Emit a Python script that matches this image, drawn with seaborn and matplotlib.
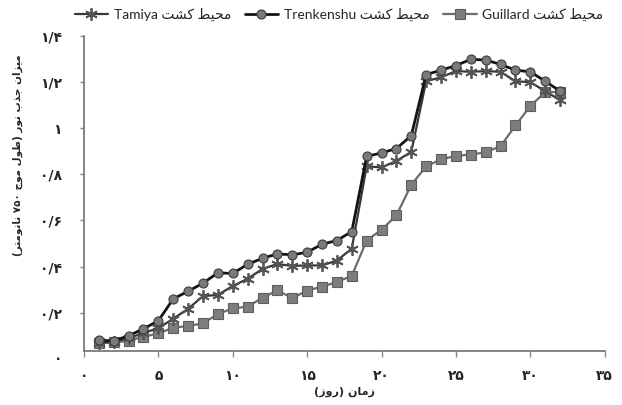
import matplotlib
matplotlib.use("Agg")
import matplotlib.pyplot as plt
import matplotlib.transforms as mtransforms
import seaborn as sns

# ---------------- data ----------------
days = list(range(1, 33))
trenkenshu = [0.080, 0.078, 0.100, 0.130, 0.165, 0.260, 0.293, 0.328, 0.373, 0.370,
              0.410, 0.436, 0.455, 0.451, 0.462, 0.497, 0.513, 0.552, 0.878, 0.893,
              0.912, 0.968, 1.233, 1.252, 1.272, 1.299, 1.296, 1.277, 1.252, 1.245,
              1.204, 1.161]
tamiya = [0.070, 0.074, 0.089, 0.112, 0.133, 0.174, 0.217, 0.272, 0.277, 0.316,
          0.347, 0.390, 0.411, 0.403, 0.405, 0.405, 0.426, 0.478, 0.835, 0.830,
          0.858, 0.898, 1.204, 1.221, 1.248, 1.245, 1.248, 1.245, 1.204, 1.200,
          1.161, 1.122]
guillard = [0.067, 0.071, 0.078, 0.096, 0.110, 0.135, 0.142, 0.154, 0.194, 0.219,
            0.226, 0.265, 0.297, 0.263, 0.296, 0.313, 0.333, 0.360, 0.513, 0.560,
            0.622, 0.755, 0.835, 0.865, 0.880, 0.886, 0.896, 0.922, 1.012, 1.096,
            1.157, 1.157]

legend_labels = ["محیط کشت Tamiya", "محیط کشت Trenkenshu", "محیط کشت Guillard"]
x_ticks = [0, 5, 10, 15, 20, 25, 30, 35]
x_tick_labels = ["۰", "۵", "۱۰", "۱۵", "۲۰", "۲۵", "۳۰", "۳۵"]
y_ticks = [0.2, 0.4, 0.6, 0.8, 1.0, 1.2, 1.4]
y_tick_labels = ["۰/۲", "۰/۴", "۰/۶", "۰/۸", "۱", "۱/۲", "۱/۴"]
zero_label = "۰"
x_title = "زمان (روز)"
y_title = "میزان جذب نور (طول موج ۷۵۰ نانومتر)"

# ------------- minimal Persian shaping + visual ordering -------------
FORMS = {  # isolated, final, initial, medial
    "\u0627": ("\uFE8D", "\uFE8E", None, None),
    "\u0628": ("\uFE8F", "\uFE90", "\uFE91", "\uFE92"),
    "\u062A": ("\uFE95", "\uFE96", "\uFE97", "\uFE98"),
    "\u062C": ("\uFE9D", "\uFE9E", "\uFE9F", "\uFEA0"),
    "\u062D": ("\uFEA1", "\uFEA2", "\uFEA3", "\uFEA4"),
    "\u062F": ("\uFEA9", "\uFEAA", None, None),
    "\u0630": ("\uFEAB", "\uFEAC", None, None),
    "\u0631": ("\uFEAD", "\uFEAE", None, None),
    "\u0632": ("\uFEAF", "\uFEB0", None, None),
    "\u0634": ("\uFEB5", "\uFEB6", "\uFEB7", "\uFEB8"),
    "\u0637": ("\uFEC1", "\uFEC2", "\uFEC3", "\uFEC4"),
    "\u0644": ("\uFEDD", "\uFEDE", "\uFEDF", "\uFEE0"),
    "\u0645": ("\uFEE1", "\uFEE2", "\uFEE3", "\uFEE4"),
    "\u0646": ("\uFEE5", "\uFEE6", "\uFEE7", "\uFEE8"),
    "\u0648": ("\uFEED", "\uFEEE", None, None),
    "\u06A9": ("\uFB8E", "\uFB8F", "\uFB90", "\uFB91"),
    "\u06CC": ("\uFBFC", "\uFBFD", "\uFBFE", "\uFBFF"),
}


def shape(s):
    out = []
    for i, c in enumerate(s):
        if c not in FORMS:
            out.append(c)
            continue
        prev = s[i - 1] if i > 0 else ""
        nxt = s[i + 1] if i + 1 < len(s) else ""
        pj = prev in FORMS and FORMS[prev][2] is not None
        nj = nxt in FORMS and FORMS[c][2] is not None
        iso, fin, ini, med = FORMS[c]
        if pj and nj:
            out.append(med)
        elif pj:
            out.append(fin)
        elif nj:
            out.append(ini)
        else:
            out.append(iso)
    return "".join(out)


def is_ltr(c):
    return (c.isascii() and c.isalnum()) or ("\u06F0" <= c <= "\u06F9")


MIRROR = {"(": ")", ")": "("}


def visual(s):
    s = shape(s)
    runs = []
    for c in s:
        kind = is_ltr(c)
        if runs and runs[-1][0] == kind:
            runs[-1][1].append(c)
        else:
            runs.append([kind, [c]])
    parts = []
    for kind, chars in reversed(runs):
        if kind:
            parts.append("".join(chars))
        else:
            parts.append("".join(MIRROR.get(ch, ch) for ch in reversed(chars)))
    return "".join(parts)


# ---------------- plot ----------------
sns.set_theme(style="white")
plt.rcParams["font.family"] = ["Lato", "DejaVu Sans"]

fig = plt.figure(figsize=(6.22, 4.05), dpi=100)
ax = fig.add_axes([0.135, 0.134, 0.8372, 0.777])

sns.lineplot(x=days, y=guillard, ax=ax, color="#6c6c6c", linewidth=1.6,
             marker="s", markersize=6.5, markerfacecolor="#7d7d7d",
             markeredgecolor="#5e5e5e", markeredgewidth=0.8,
             label=visual(legend_labels[2]), zorder=3)
sns.lineplot(x=days, y=tamiya, ax=ax, color="#383838", linewidth=1.6,
             marker=(6, 2, 0), markersize=9, markeredgecolor="#555555",
             markeredgewidth=1.3, label=visual(legend_labels[0]), zorder=4)
sns.lineplot(x=days, y=trenkenshu, ax=ax, color="#141414", linewidth=2.0,
             marker="o", markersize=6.5, markerfacecolor="#7a7a7a",
             markeredgecolor="#3c3c3c", markeredgewidth=0.8,
             label=visual(legend_labels[1]), zorder=5)

ax.set_xlim(0, 35)
ax.set_ylim(0.035, 1.4)
ax.set_xticks(x_ticks)
ax.set_xticklabels(x_tick_labels, fontsize=10, fontweight="bold",
                   family=["DejaVu Sans"])
ax.set_yticks(y_ticks)
ax.set_yticklabels(y_tick_labels, fontsize=10, fontweight="bold",
                   family=["DejaVu Sans"])
ax.tick_params(axis="x", direction="out", length=4, width=1, color="#888888",
               pad=9, bottom=True)
ax.tick_params(axis="y", direction="out", length=3, width=1, color="#888888",
               pad=13, left=True)

# zero label on the y axis (axis starts a little above zero)
trans = mtransforms.blended_transform_factory(ax.transAxes, ax.transData)
ax.text(-0.041, 0.0, zero_label, transform=trans, ha="right", va="center",
        fontsize=10, fontweight="bold", family=["DejaVu Sans"], clip_on=False)

for side in ["top", "right"]:
    ax.spines[side].set_visible(False)
for side in ["left", "bottom"]:
    ax.spines[side].set_color("#7a7a7a")
    ax.spines[side].set_linewidth(1.3)

ax.set_xlabel(visual(x_title), fontsize=8, fontweight="bold",
              family=["DejaVu Sans"], labelpad=3)
ax.set_ylabel(visual(y_title), fontsize=7.5, fontweight="bold",
              family=["DejaVu Sans"])
ax.yaxis.set_label_coords(-0.118, 0.62)

handles, labels = ax.get_legend_handles_labels()
order = [1, 2, 0]
ax.get_legend().remove()
fig.legend([handles[i] for i in order], [labels[i] for i in order],
           loc="upper center", bbox_to_anchor=(0.545, 1.012), ncol=3,
           frameon=False, fontsize=10, handlelength=2.4, columnspacing=1.0,
           handletextpad=0.4)

fig.savefig("out.png", dpi=100)
